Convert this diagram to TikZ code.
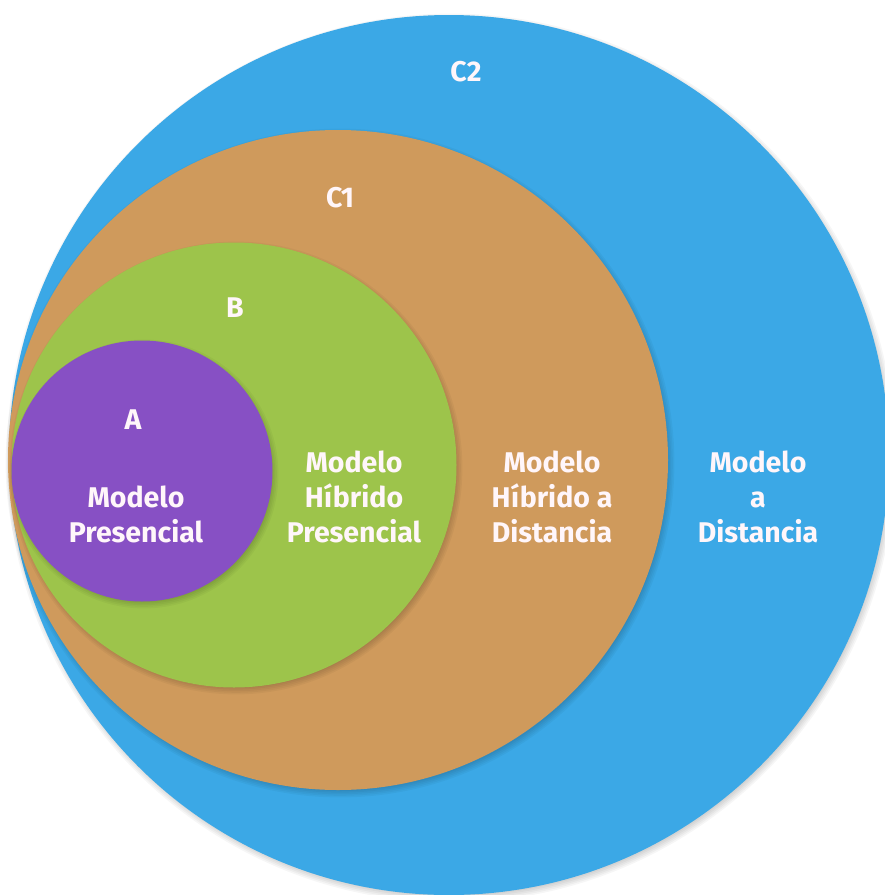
\documentclass[tikz,border=0pt]{standalone}
\usepackage{fontspec}
\setmainfont{Fira Sans}
\definecolor{cblue}{HTML}{3BA8E6}
\definecolor{ctan}{HTML}{CF9A5C}
\definecolor{cgreen}{HTML}{9DC44B}
\definecolor{cpurple}{HTML}{8750C4}
\definecolor{ctext}{HTML}{FFF6FA}
\tikzset{
  disc/.style={circle, inner sep=0pt, fill=#1, draw=none},
  lbl/.style={text=ctext, font=\fontsize{28.5}{35}\selectfont\bfseries, align=center, inner sep=0pt},
  shade/.style={fill=black, fill opacity=0.035, draw=none}
}
\newcommand{\softshadow}[3]{%
  \foreach \k in {0,1,2,3,4} {
    \fill[shade] (#1+2,#2+3) circle ({#3+\k*1.6});
  }%
}
\begin{document}
\begin{tikzpicture}[x=1pt,y=-1pt]
\useasboundingbox (0,0) rectangle (885,895);
\fill[white] (0,0) rectangle (885,895);
\clip (0,0) rectangle (885,895);
% C2
\softshadow{449}{455}{438}
\node[disc=cblue, minimum size=880pt] (c2) at (449,455) {};
% C1
\softshadow{338}{460}{328}
\node[disc=ctan, minimum size=660pt] (c1) at (338,460) {};
% B
\softshadow{234}{465}{220}
\node[disc=cgreen, minimum size=445pt] (b) at (234,465) {};
% A
\softshadow{142}{471}{128}
\node[disc=cpurple, minimum size=261pt] (a) at (142,471) {};
% labels
\node[lbl] (lc2) at (466,72) {C2};
\node[lbl] (lc1) at (340,198) {C1};
\node[lbl] (lb) at (235,308) {B};
\node[lbl] (la) at (133,420) {A};
\node[lbl] (ta) at (136,514) {Modelo\\Presencial};
\node[lbl] (tb) at (354,497) {Modelo\\Híbrido\\Presencial};
\node[lbl] (tc1) at (552,497) {Modelo\\Híbrido a\\Distancia};
\node[lbl] (tc2) at (758,497) {Modelo\\a\\Distancia};
\end{tikzpicture}
\end{document}
